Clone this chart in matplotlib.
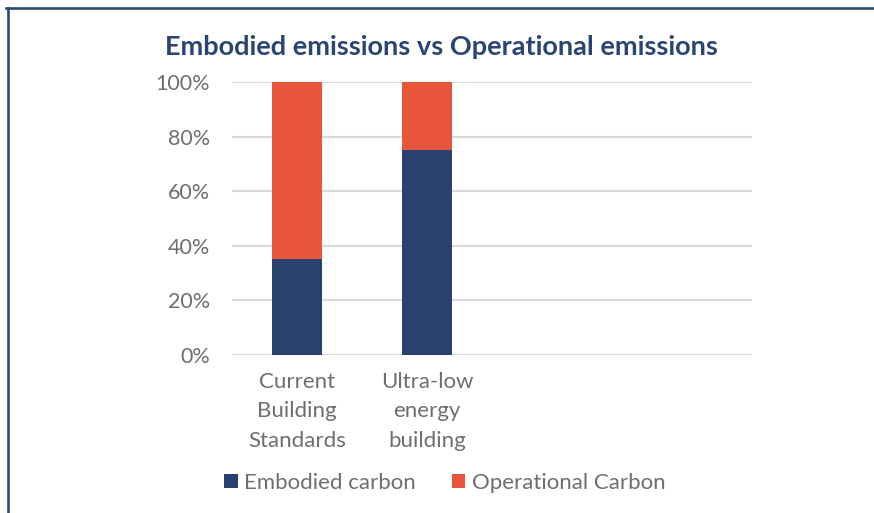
import numpy as np
import matplotlib.pyplot as plt
from matplotlib.lines import Line2D
from matplotlib.patches import Patch

# stacked shares per building type (two empty slots keep the Excel-like spacing)
categories = ["Current\nBuilding\nStandards", "Ultra-low\nenergy\nbuilding", "", ""]
embodied = [0.35, 0.75, 0, 0]
operational = [0.65, 0.25, 0, 0]
series_names = ["Embodied carbon", "Operational Carbon"]
yticks = [0, 0.2, 0.4, 0.6, 0.8, 1.0]

BLUE = "#2A416F"
ORANGE = "#E9553A"
GREY = "#6E6E6E"

plt.rcParams['font.family'] = ['Lato', 'DejaVu Sans']

fig = plt.figure(figsize=(8.74, 5.13), dpi=100)
W, H = 874, 513
ax = fig.add_axes([232 / W, 1 - 355 / H, (752 - 232) / W, (355 - 82) / H])

x = np.arange(len(categories))
ax.bar(x, embodied, width=0.39, color=BLUE, zorder=3)
ax.bar(x, operational, width=0.39, bottom=embodied, color=ORANGE, zorder=3)

ax.set_xlim(-0.5, len(categories) - 0.5)
ax.set_ylim(0, 1)
ax.set_yticks(yticks)
ax.set_yticklabels([f"{int(round(v * 100))}%" for v in yticks])
ax.set_xticks(x)
ax.set_xticklabels(categories, linespacing=1.6)
ax.tick_params(axis='y', length=0, pad=16, labelsize=15.5, labelcolor=GREY)
ax.tick_params(axis='x', length=0, pad=12, labelsize=16, labelcolor=GREY)

ax.grid(axis='y', color="#D9D9D9", linewidth=1.5, zorder=0)
for s in ax.spines.values():
    s.set_visible(False)
ax.set_axisbelow(True)

fig.text(0.505, 1 - 47 / H, "Embodied emissions vs Operational emissions",
         ha='center', va='center', fontsize=19.5, fontweight='bold', color="#2B4573")

handles = [Patch(facecolor=BLUE), Patch(facecolor=ORANGE)]
fig.legend(handles, series_names, loc='center', bbox_to_anchor=(0.509, 1 - 483 / H),
           ncol=2, frameon=False, fontsize=16, labelcolor=GREY,
           handlelength=0.6, handleheight=0.6, handletextpad=0.3, columnspacing=1.6)

# frame lines along the top and left edge
fig.add_artist(Line2D([6 / W, 1], [1 - 8 / H, 1 - 8 / H], color="#2E4677", linewidth=1.9))
fig.add_artist(Line2D([8 / W, 8 / W], [1 - 8 / H, 0], color="#2E4677", linewidth=1.9))

fig.savefig("out.png", dpi=100)
